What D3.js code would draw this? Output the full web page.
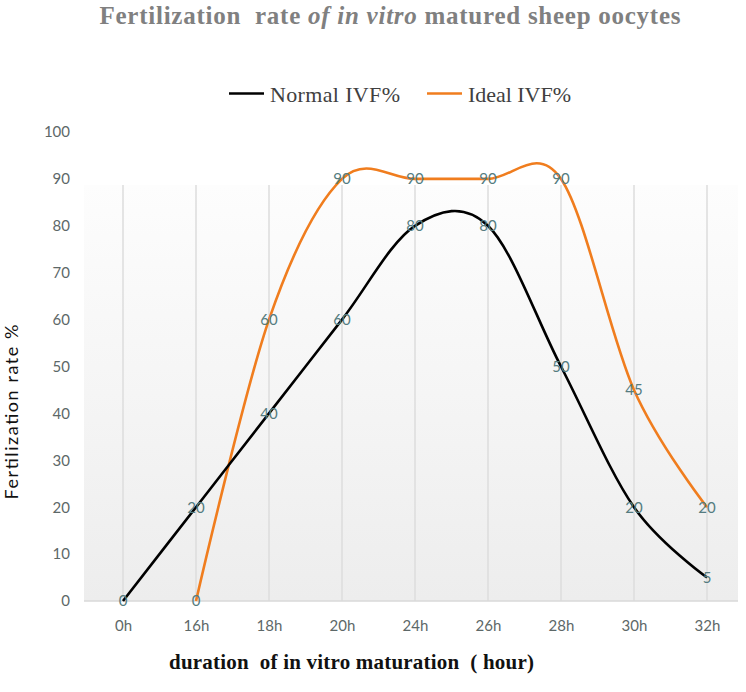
<!DOCTYPE html>
<html><head><meta charset="utf-8">
<script src="https://cdn.jsdelivr.net/npm/d3@7"></script>
<style>body{margin:0;background:#fff}</style>
</head><body>
<svg id="c" width="746" height="692"></svg>
<script>
const categories = ["0h","16h","18h","20h","24h","26h","28h","30h","32h"];
const normalIVF = [0,20,40,60,80,80,50,20,5];
const idealIVF = [null,0,60,90,90,90,90,45,20];
const yTicks = [0,10,20,30,40,50,60,70,80,90,100];

const svg = d3.select("#c");
const plot = {left:84, right:738, top:185, bottom:601};
const x = d3.scalePoint().domain(categories).range([86.5,743.5]).padding(0.5);
const y = d3.scaleLinear().domain([0,100]).range([601,132]);
const numFont = "Lato, 'Open Sans', sans-serif";

const defs = svg.append("defs");
const g = defs.append("linearGradient").attr("id","bg").attr("x1",0).attr("y1",0).attr("x2",0).attr("y2",1);
g.append("stop").attr("offset","0%").attr("stop-color","#fdfdfd");
g.append("stop").attr("offset","100%").attr("stop-color","#ededed");
svg.append("rect").attr("x",plot.left).attr("y",plot.top).attr("width",plot.right-plot.left).attr("height",plot.bottom-plot.top).attr("fill","url(#bg)");

// vertical grid
svg.append("g").selectAll("line").data(categories).join("line")
  .attr("x1",d=>x(d)).attr("x2",d=>x(d)).attr("y1",plot.top).attr("y2",plot.bottom)
  .attr("stroke","#dcdcdc").attr("stroke-width",1.5);
// baseline
svg.append("line").attr("x1",plot.left).attr("x2",plot.right).attr("y1",y(0)).attr("y2",y(0)).attr("stroke","#d9d9d9").attr("stroke-width",1.5);

// y axis
const yAxis = d3.axisLeft(y).tickValues(yTicks).tickSize(0).tickPadding(0);
const ya = svg.append("g").attr("transform","translate(70,0)").call(yAxis);
ya.select(".domain").remove();
ya.selectAll("text").attr("font-family",numFont).attr("font-size",15).attr("fill","#5d6868");

// x axis
const xAxis = d3.axisBottom(x).tickSize(0).tickPadding(0);
const xa = svg.append("g").attr("transform","translate(0,620)").call(xAxis);
xa.select(".domain").remove();
xa.selectAll("text").attr("font-family",numFont).attr("font-size",15).attr("fill","#5d6868").attr("dy","0.71em");

const line = d3.line().x(d=>x(d[0])).y(d=>y(d[1])).curve(d3.curveCardinal.tension(0));
const series = [
  {name:"Normal IVF%", values:normalIVF, color:"#000000"},
  {name:"Ideal IVF%", values:idealIVF, color:"#f07d1e"}
];
series.slice().reverse().forEach(s=>{
  svg.append("path").datum(categories.map((c,i)=>[c,s.values[i]]).filter(d=>d[1]!=null))
    .attr("d",line).attr("fill","none").attr("stroke",s.color).attr("stroke-width",2.6);
});
series.forEach(s=>{
  svg.append("g").selectAll("text").data(categories.map((c,i)=>[c,s.values[i]]).filter(d=>d[1]!=null)).join("text")
    .attr("x",d=>x(d[0])).attr("y",d=>y(d[1])).attr("dy","0.36em").attr("text-anchor","middle")
    .attr("font-family",numFont).attr("font-size",15).attr("fill","#557c80")
    .text(d=>d[1]);
});

// title
const t = svg.append("text").attr("x",390).attr("y",24).attr("text-anchor","middle")
  .attr("font-family","'Liberation Serif', 'DejaVu Serif', serif").attr("font-size",25).attr("font-weight","bold").attr("fill","#808080")
  .attr("textLength",581).attr("lengthAdjust","spacing").style("white-space","pre");
t.append("tspan").text("Fertilization  rate ");
t.append("tspan").attr("font-style","italic").text("of in vitro");
t.append("tspan").text(" matured sheep oocytes");

// legend
const leg = [{s:series[0], x:229, w:130},{s:series[1], x:427, w:103}];
leg.forEach(l=>{
  svg.append("line").attr("x1",l.x).attr("x2",l.x+35).attr("y1",93.5).attr("y2",93.5).attr("stroke",l.s.color).attr("stroke-width",2.6);
  svg.append("text").attr("x",l.x+41).attr("y",102).attr("font-family","'Liberation Serif', serif").attr("font-size",22).attr("fill","#404040")
    .attr("textLength",l.w).text(l.s.name);
});

// axis titles
svg.append("text").attr("transform","translate(18,412) rotate(-90)").attr("text-anchor","middle")
  .attr("font-family",numFont).attr("font-size",18).attr("fill","#111").attr("textLength",175).text("Fertilization rate %");
svg.append("text").attr("x",169).attr("y",669).attr("font-family","'Liberation Serif', serif").attr("font-size",21).attr("font-weight","bold").attr("fill","#111")
  .style("white-space","pre").attr("textLength",365).text("duration  of in vitro maturation  ( hour)");
</script>
</body></html>
